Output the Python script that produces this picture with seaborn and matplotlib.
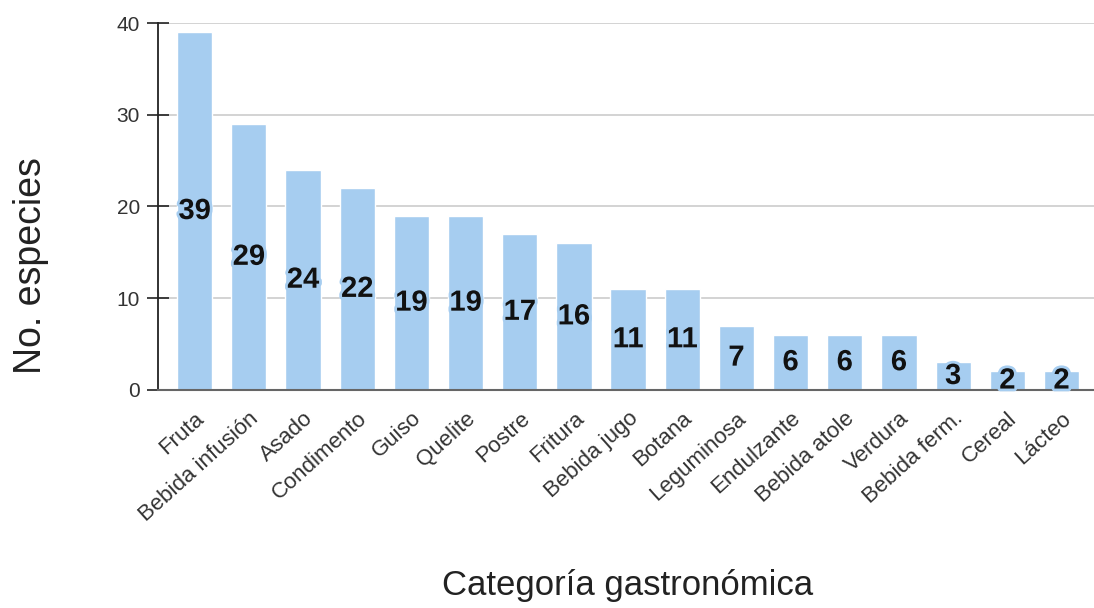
import matplotlib
matplotlib.use("Agg")
import matplotlib.pyplot as plt
import matplotlib.patheffects as pe
import matplotlib.transforms as mtransforms
import seaborn as sns
import pandas as pd

categorias = ["Fruta", "Bebida infusión", "Asado", "Condimento", "Guiso", "Quelite",
              "Postre", "Fritura", "Bebida jugo", "Botana", "Leguminosa", "Endulzante",
              "Bebida atole", "Verdura", "Bebida ferm.", "Cereal", "Lácteo"]
especies = [39, 29, 24, 22, 19, 19, 17, 16, 11, 11, 7, 6, 6, 6, 3, 2, 2]
y_ticks = [0, 10, 20, 30, 40]

sns.set_theme(style="white")
plt.rcParams["font.family"] = ["Liberation Sans", "DejaVu Sans"]

bar_color = "#a6cdf0"
df = pd.DataFrame({"cat": categorias, "n": especies})

fig = plt.figure(figsize=(10.94, 6.08), dpi=100)
ax = fig.add_axes([0.1445, 0.359, 0.8555, 0.603])

sns.barplot(data=df, x="cat", y="n", color=bar_color, saturation=1, width=0.65,
            order=categorias, ax=ax, zorder=2)

for i, v in enumerate(especies):
    ax.text(i, v / 2, str(v), ha="center", va="center", fontsize=21,
            fontweight="bold", color="#111111", zorder=3,
            path_effects=[pe.withStroke(linewidth=4, foreground=bar_color)])

ax.set_ylim(0, 40)
ax.set_xlim(-0.675, 16.6)
ax.set_yticks(y_ticks)
ax.set_yticklabels([str(t) for t in y_ticks], fontsize=15, color="#333333")
ax.yaxis.grid(True, color="#cccccc", linewidth=1.2, zorder=0)
ax.xaxis.grid(False)
ax.set_axisbelow(True)

ax.set_xticks(range(len(categorias)))
ax.set_xticklabels(categorias, rotation=42, ha="right", rotation_mode="anchor",
                   fontsize=16, color="#333333")
shift = mtransforms.ScaledTranslation(9 / 100, 0, fig.dpi_scale_trans)
for lbl in ax.get_xticklabels():
    lbl.set_transform(lbl.get_transform() + shift)
ax.tick_params(axis="x", length=0, pad=13)
ax.tick_params(axis="y", direction="inout", length=16, width=1.2, color="#222222",
               left=True, pad=5)

for s in ["top", "right"]:
    ax.spines[s].set_visible(False)
ax.spines["left"].set_color("#222222")
ax.spines["left"].set_linewidth(1.3)
ax.spines["bottom"].set_color("#666666")
ax.spines["bottom"].set_linewidth(1.5)

ax.set_xlabel("")
ax.set_ylabel("")
fig.text(0.028, 0.5625, "No. especies", rotation=90, ha="center", va="center",
         fontsize=27, color="#222222")
fig.text(0.574, 0.037, "Categoría gastronómica", ha="center", va="center",
         fontsize=25, color="#222222")

fig.savefig("out.png", dpi=100)
